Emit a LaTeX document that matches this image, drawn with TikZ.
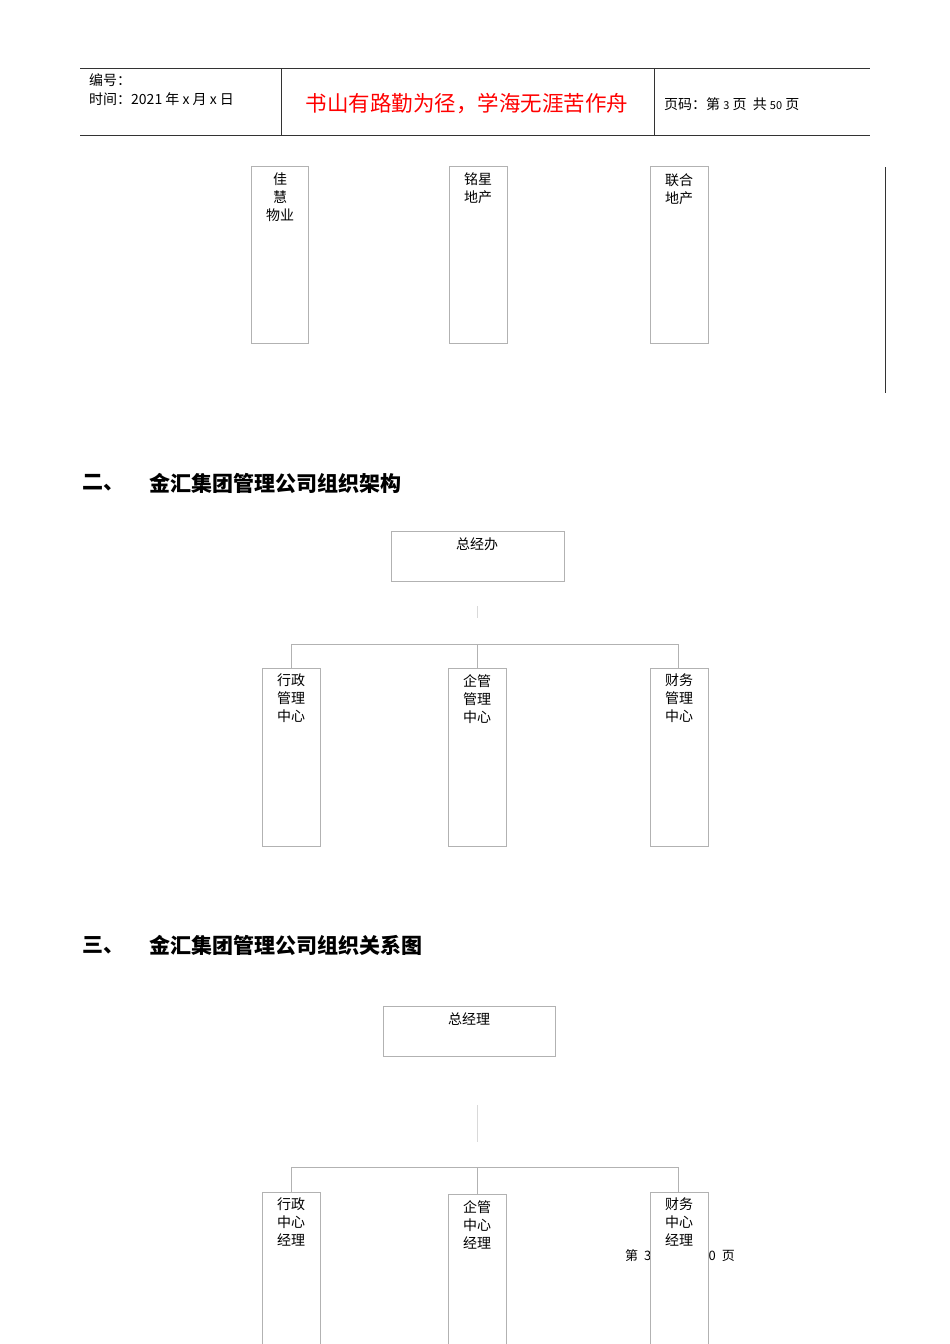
\documentclass[tikz,border=0pt]{standalone}
\usepackage{fontspec}
\setmainfont{Liberation Sans}
\newfontfamily\cjk{Noto Sans CJK SC}
\begin{document}
\begin{tikzpicture}[x=1pt,y=-1pt,
  bx/.style={draw=black!30,fill=white,line width=0.8pt},
  ln/.style={draw=black!30,line width=0.8pt},
  bt/.style={font=\cjk\fontsize{14}{18}\selectfont,align=center,inner sep=0pt,anchor=north},
  hd/.style={font=\cjk\bfseries\fontsize{21}{24}\selectfont,anchor=west,inner sep=0pt},
  ht/.style={font=\cjk\fontsize{14}{18}\selectfont,anchor=west,inner sep=0pt}]
\useasboundingbox (0,0) rectangle (950,1344);
% header
\draw[black!80,line width=0.8pt] (80,68) -- (870,68) (80,135) -- (870,135) (281,68) -- (281,135) (654,68) -- (654,135);
\node[ht] (h1) at (89,80) {编号：};
\node[ht] (h2) at (89,99) {时间：2021 年 x 月 x 日};
\node[font=\cjk\fontsize{21.5}{24}\selectfont,text=red,inner sep=0pt] (h3) at (467,104) {书山有路勤为径，学海无涯苦作舟};
\node[ht] (h4) at (664,104) {页码：第 {\fontsize{11}{12}\selectfont 3} 页\ \ 共 {\fontsize{11}{12}\selectfont 50} 页};
\draw[black!80,line width=0.8pt] (885,167) -- (885,393);
% top boxes
\draw[bx] (251,166) rectangle (308,343);
\node[bt] (a1) at (280,173) {佳\\慧\\物业};
\draw[bx] (449,166) rectangle (507,343);
\node[bt] (a2) at (478,173) {铭星\\地产};
\draw[bx] (650,166) rectangle (708,343);
\node[bt] (a3) at (679,173) {联合\\地产};
% section 2
\node[hd] (s2a) at (82,483) {二、};
\node[hd] (s2) at (149,483) {金汇集团管理公司组织架构};
\draw[bx] (391,531) rectangle (564,581);
\node[bt] (b0) at (477,538) {总经办};
\draw[ln,black!15] (477,606) -- (477,618);
\draw[ln] (291,668) -- (291,644) -- (678,644) -- (678,668) (477,644) -- (477,668);
\draw[bx] (262,668) rectangle (320,846);
\node[bt] (b1) at (291,674) {行政\\管理\\中心};
\draw[bx] (448,668) rectangle (506,846);
\node[bt] (b2) at (477,674) {企管\\管理\\中心};
\draw[bx] (650,668) rectangle (708,846);
\node[bt] (b3) at (679,674) {财务\\管理\\中心};
% section 3
\node[hd] (s3a) at (82,945) {三、};
\node[hd] (s3) at (149,945) {金汇集团管理公司组织关系图};
\draw[bx] (383,1006) rectangle (555,1056);
\node[bt] (c0) at (469,1013) {总经理};
\draw[ln,black!15] (477,1105) -- (477,1142);
\node[font=\cjk\fontsize{13}{16}\selectfont,anchor=west,inner sep=0pt] (ft) at (625,1256) {第\hspace{6pt}3\hspace{6pt}页\hspace{12pt}共\hspace{6pt}50\hspace{6pt}页};
\draw[ln] (291,1192) -- (291,1167) -- (678,1167) -- (678,1192) (477,1167) -- (477,1194);
\draw[bx] (262,1192) rectangle (320,1350);
\node[bt] (c1) at (291,1198) {行政\\中心\\经理};
\draw[bx] (448,1194) rectangle (506,1350);
\node[bt] (c2) at (477,1200) {企管\\中心\\经理};
\draw[bx] (650,1192) rectangle (708,1350);
\node[bt] (c3) at (679,1198) {财务\\中心\\经理};
\end{tikzpicture}
\end{document}
